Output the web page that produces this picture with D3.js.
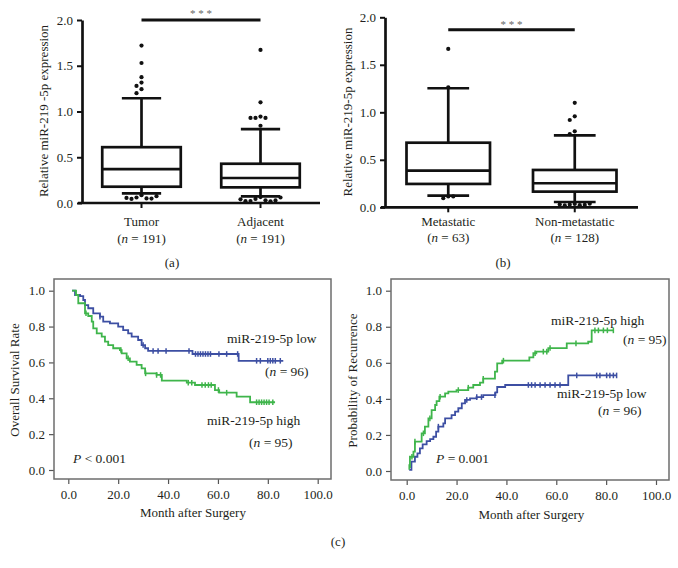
<!DOCTYPE html>
<html><head><meta charset="utf-8">
<script src="https://cdn.jsdelivr.net/npm/d3@7"></script>
<style>
body{margin:0;background:#fff}
svg{display:block}
text{font-family:"Liberation Serif","Times New Roman",serif;fill:#231f20}
</style>
</head><body><svg id="c" width="678" height="568"></svg>
<script>
// ---------- DATA ----------
// panel (a)
const catsA = ["Tumor", "Adjacent"];
const nA = [191, 191];
const q1A = [0.178, 0.171];
const medA = [0.37, 0.273];
const q3A = [0.61, 0.429];
const loA = [0.105, 0.073];
const hiA = [1.145, 0.807];
const outTumor = [1.72, 1.53, 1.375, 1.316, 1.28, 1.244, 1.2, 0.085, 0.06, 0.05, 0.045, 0.048, 0.055, 0.075];
const outAdjacent = [1.673, 1.10, 0.945, 0.93, 0.93, 0.93, 0.844, 0.065, 0.045, 0.03, 0.022, 0.018, 0.02, 0.028, 0.04, 0.06];
const sigA = 2.0;
// panel (b)
const catsB = ["Metastatic", "Non-metastatic"];
const nB = [63, 128];
const q1B = [0.246, 0.165];
const medB = [0.386, 0.253];
const q3B = [0.68, 0.393];
const loB = [0.123, 0.056];
const hiB = [1.253, 0.758];
const outMet = [1.667, 1.263, 0.115, 0.095, 0.115];
const outNon = [1.10, 0.958, 0.919, 0.80, 0.77, 0.035, 0.028, 0.022, 0.02, 0.025, 0.03, 0.038];
const sigB = 1.87;
const boxTicks = [0, 0.5, 1.0, 1.5, 2.0];

// panel (c) left: overall survival, steps [month, rate]
const osLow = [[1.5,1.0],[2.7,0.976],[4.7,0.97],[6,0.948],[6.7,0.92],[8,0.902],[10,0.874],[12.7,0.855],[14,0.827],[16.7,0.818],[20,0.8],[22,0.78],[24,0.762],[25.4,0.744],[28,0.725],[29.4,0.697],[30.8,0.679],[32,0.664],[49.8,0.647],[68.3,0.609]];
const osLowEnd = 86.2;
const osLowCens = [12.7,30,34,36,39.2,48.4,51,52,53,54,55,56,57,60.4,63.5,67.9,75.5,77,80,81,82,83,85];
const osHigh = [[1.5,1.0],[3.1,0.976],[4,0.93],[6.7,0.874],[8,0.859],[9.4,0.827],[10,0.79],[11.4,0.762],[13.4,0.744],[14.7,0.716],[16,0.697],[18,0.679],[20.7,0.669],[21.4,0.651],[23.4,0.623],[24.7,0.604],[27.4,0.586],[29.4,0.567],[30.8,0.539],[35.4,0.53],[37.5,0.498],[47.5,0.487],[50.8,0.474],[58.8,0.446],[60.5,0.431],[67.5,0.409],[72.9,0.378]];
const osHighEnd = 82.9;
const osHighCens = [7.1,21.1,24,31,35.4,37,48.1,49.5,53.6,54.9,56.2,57.3,60.2,63.5,75.5,76.5,77.5,78.5,79.5,80.5,82];

// panel (c) right: probability of recurrence, steps [month, prob]
const recHigh = [[1,0.022],[1.3,0.079],[2.7,0.107],[3.3,0.163],[6,0.209],[7.3,0.246],[8.7,0.292],[10,0.338],[11.4,0.366],[12,0.388],[13.1,0.412],[15.4,0.43],[16.7,0.44],[20,0.449],[24.7,0.462],[26.7,0.477],[29.4,0.49],[30.7,0.512],[35.4,0.551],[36.3,0.597],[38.3,0.612],[49.2,0.63],[50.8,0.653],[52,0.662],[56.8,0.682],[64.2,0.708],[72.8,0.717],[74.2,0.78]];
const recHighEnd = 82.9;
const recHighCens = [1,2.1,3.3,6.7,9.3,13.4,20.7,24.7,30.7,38.8,51.5,54.8,56.2,57.5,67.9,75.5,76.9,78.9,80.5,82.9];
const recLow = [[1,0.006],[1.9,0.052],[3.3,0.079],[4.3,0.098],[5.3,0.126],[6.4,0.148],[8,0.166],[9.4,0.177],[10.7,0.19],[11.8,0.218],[12.7,0.246],[14.7,0.264],[15.4,0.292],[18,0.31],[19.4,0.329],[20.7,0.348],[22.1,0.375],[23.4,0.394],[25.4,0.403],[28,0.41],[30.7,0.421],[35.6,0.436],[36.3,0.466],[39.5,0.477],[64.8,0.53]];
const recLowEnd = 84.2;
const recLowCens = [12.7,24.1,28.1,30,35.4,48.8,50.1,51.5,53.5,55.5,57.5,59.5,61.5,68.2,76.2,77.5,80.2,81.5,82.9,84.2];

const kmTicksY = [0, 0.2, 0.4, 0.6, 0.8, 1.0];
const kmTicksX = [0, 20, 40, 60, 80, 100];

// ---------- DRAW ----------
const svg = d3.select("#c");
const BLUE = "#3d4fa3", GREEN = "#3fb54b";

function nLabel(sel, n) {
  sel.append("tspan").text("(");
  sel.append("tspan").attr("font-style", "italic").text("n");
  sel.append("tspan").text(" = " + n + ")");
}

function boxPanel(o) {
  const g = svg.append("g");
  const y = d3.scaleLinear().domain([0, 2]).range(o.yr);
  const x = d3.scaleBand().domain(o.cats).range(o.xr).paddingInner(0.34).paddingOuter(0.17);
  const bw = x.bandwidth();
  const cx = c => x(c) + bw / 2;
  const sw = 2.7;
  // y axis
  const ya = g.append("g").attr("transform", `translate(${o.xr[0]},0)`)
    .call(d3.axisLeft(y).tickValues(boxTicks).tickFormat(d3.format(".1f")).tickSize(5).tickSizeOuter(0).tickPadding(4));
  ya.select(".domain").attr("stroke-width", sw).attr("stroke", "#111");
  ya.selectAll(".tick line").attr("stroke-width", 2).attr("stroke", "#111");
  ya.selectAll(".tick text").attr("font-size", 13).attr("font-family", "Liberation Serif").attr("fill", "#231f20");
  // x axis
  const xa = g.append("g").attr("transform", `translate(0,${o.yr[0]})`)
    .call(d3.axisBottom(x).tickSize(5).tickSizeOuter(0).tickFormat(""));
  xa.select(".domain").attr("stroke-width", sw).attr("stroke", "#111").attr("d", `M${o.xr[0]-4},0H${o.xr[1]}`);
  xa.selectAll(".tick line").attr("stroke-width", 2).attr("stroke", "#111");
  // category labels
  o.cats.forEach((c, i) => {
    g.append("text").attr("x", cx(c)).attr("y", o.labY[0]).attr("text-anchor", "middle").attr("font-size", 13).text(c);
    const t = g.append("text").attr("x", cx(c)).attr("y", o.labY[1]).attr("text-anchor", "middle").attr("font-size", 13);
    nLabel(t, o.n[i]);
  });
  // boxes
  o.cats.forEach((c, i) => {
    const xc = cx(c), x0 = x(c);
    const ln = (x1, y1, x2, y2) => g.append("line").attr("x1", x1).attr("y1", y1).attr("x2", x2).attr("y2", y2)
      .attr("stroke", "#111").attr("stroke-width", sw);
    ln(xc, y(o.q3[i]), xc, y(o.hi[i]));
    ln(xc, y(o.q1[i]), xc, y(o.lo[i]));
    ln(xc - bw / 4, y(o.hi[i]), xc + bw / 4, y(o.hi[i]));
    ln(xc - bw / 4, y(o.lo[i]), xc + bw / 4, y(o.lo[i]));
    g.append("rect").attr("x", x0).attr("y", y(o.q3[i])).attr("width", bw).attr("height", y(o.q1[i]) - y(o.q3[i]))
      .attr("fill", "#fff").attr("stroke", "#111").attr("stroke-width", sw);
    ln(x0, y(o.med[i]), x0 + bw, y(o.med[i]));
    // outliers with simple dodge
    const placed = [];
    o.outs[i].forEach(v => {
      const py = y(v);
      let off = 0;
      for (let k = 0; k < 20; k++) {
        const cand = k === 0 ? 0 : (k % 2 ? -1 : 1) * Math.ceil(k / 2) * 5;
        if (!placed.some(p => Math.hypot(p[0] - cand, p[1] - py) < 4.6)) { off = cand; break; }
      }
      placed.push([off, py]);
      g.append("circle").attr("cx", xc + off).attr("cy", py).attr("r", 2.1).attr("fill", "#111");
    });
  });
  // significance
  const c0 = cx(o.cats[0]), c1 = cx(o.cats[1]);
  g.append("line").attr("x1", c0).attr("x2", c1).attr("y1", y(o.sig)).attr("y2", y(o.sig))
    .attr("stroke", "#111").attr("stroke-width", 3);
  g.append("text").attr("x", (c0 + c1) / 2).attr("y", y(o.sig) - o.starGap).attr("text-anchor", "middle")
    .attr("font-size", 11).style("fill", "#666").text("* * *");
  // y label
  g.append("text").attr("transform", `translate(${o.ylabX},${o.ylabY}) rotate(-90)`).attr("text-anchor", "middle")
    .attr("font-size", 13).text(o.ylab);
  g.append("text").attr("x", o.panelLab[0]).attr("y", o.panelLab[1]).attr("text-anchor", "middle").attr("font-size", 13).text(o.panelLab[2]);
}

boxPanel({cats: catsA, n: nA, q1: q1A, med: medA, q3: q3A, lo: loA, hi: hiA, outs: [outTumor, outAdjacent],
  sig: sigA, starGap: 3, yr: [203, 20], xr: [82, 320], labY: [225.5, 243], ylab: "Relative miR-219 -5p expression",
  ylabX: 48, ylabY: 111, panelLab: [172, 267, "(a)"]});
boxPanel({cats: catsB, n: nB, q1: q1B, med: medB, q3: q3B, lo: loB, hi: hiB, outs: [outMet, outNon],
  sig: sigB, starGap: 2, yr: [207.3, 17.3], xr: [385, 638], labY: [226, 241.5], ylab: "Relative miR-219-5p expression",
  ylabX: 352, ylabY: 112, panelLab: [503, 267, "(b)"]});

function stepAt(steps, t) {
  let v = steps[0][1];
  for (const s of steps) { if (s[0] <= t) v = s[1]; else break; }
  return v;
}

function kmPanel(o) {
  const g = svg.append("g");
  const x = d3.scaleLinear().domain([0, 100]).range(o.xr);
  const y = d3.scaleLinear().domain([0, 1]).range(o.yr);
  const F = o.frame; // [x0,y0,x1,y1]
  const ya = g.append("g").attr("transform", `translate(${F[0]},0)`)
    .call(d3.axisLeft(y).tickValues(kmTicksY).tickFormat(d3.format(".1f")).tickSize(5).tickPadding(4));
  ya.select(".domain").remove();
  const xa = g.append("g").attr("transform", `translate(0,${F[3]})`)
    .call(d3.axisBottom(x).tickValues(kmTicksX).tickFormat(d3.format(".1f")).tickSize(5).tickPadding(6));
  xa.select(".domain").remove();
  g.selectAll(".tick line").attr("stroke", "#555").attr("stroke-width", 1.2);
  g.selectAll(".tick text").attr("font-size", 13).attr("font-family", "Liberation Serif").attr("fill", "#231f20");
  g.append("rect").attr("x", F[0]).attr("y", F[1]).attr("width", F[2] - F[0]).attr("height", F[3] - F[1])
    .attr("fill", "none").attr("stroke", "#6d6d6d").attr("stroke-width", 1.5);
  const line = d3.line().x(d => x(d[0])).y(d => y(d[1])).curve(d3.curveStepAfter);
  o.series.forEach(s => {
    const pts = s.steps.concat([[s.end, s.steps[s.steps.length - 1][1]]]);
    g.append("path").attr("d", line(pts)).attr("fill", "none").attr("stroke", s.color).attr("stroke-width", 1.8);
    s.cens.forEach(t => {
      const cxp = x(t), cyp = y(stepAt(s.steps, t));
      g.append("line").attr("x1", cxp).attr("x2", cxp).attr("y1", cyp - 2.8).attr("y2", cyp + 2.8)
        .attr("stroke", s.color).attr("stroke-width", 1.5);
    });
  });
  g.append("text").attr("transform", `translate(${o.ylabX},${(F[1] + F[3]) / 2 + 1}) rotate(-90)`).attr("text-anchor", "middle")
    .attr("font-size", 13).text(o.ylab);
  g.append("text").attr("x", (o.xr[0] + o.xr[1]) / 2).attr("y", o.xlabY).attr("text-anchor", "middle")
    .attr("font-size", 13).text("Month after Surgery");
  o.texts.forEach(t => {
    const el = g.append("text").attr("x", t[0]).attr("y", t[1]).attr("font-size", 13.5);
    if (t[2] === "n") nLabel(el, t[3]);
    else if (t[2] === "P") { el.append("tspan").attr("font-style", "italic").text("P"); el.append("tspan").text(t[3]); }
    else el.text(t[2]);
  });
}

kmPanel({xr: [68.3, 317.7], yr: [470, 290.7], frame: [54, 279, 331, 479], ylab: "Overall Survival Rate", ylabX: 18.5, xlabY: 517,
  series: [{steps: osLow, end: osLowEnd, cens: osLowCens, color: BLUE}, {steps: osHigh, end: osHighEnd, cens: osHighCens, color: GREEN}],
  texts: [[227, 343, "miR-219-5p low"], [265, 376, "n", 96], [207, 425, "miR-219-5p high"], [249, 447, "n", 95], [73, 463, "P", " < 0.001"]]});
kmPanel({xr: [406.7, 656], yr: [471, 290.7], frame: [391, 279, 669, 480], ylab: "Probability of Recurrence", ylabX: 356.5, xlabY: 519,
  series: [{steps: recLow, end: recLowEnd, cens: recLowCens, color: BLUE}, {steps: recHigh, end: recHighEnd, cens: recHighCens, color: GREEN}],
  texts: [[551, 325, "miR-219-5p high"], [623, 344, "n", 95], [557, 398, "miR-219-5p low"], [598, 415, "n", 96], [436, 463, "P", " = 0.001"]]});

svg.append("text").attr("x", 338).attr("y", 546).attr("text-anchor", "middle").attr("font-size", 13).text("(c)");
</script>
</body></html>
